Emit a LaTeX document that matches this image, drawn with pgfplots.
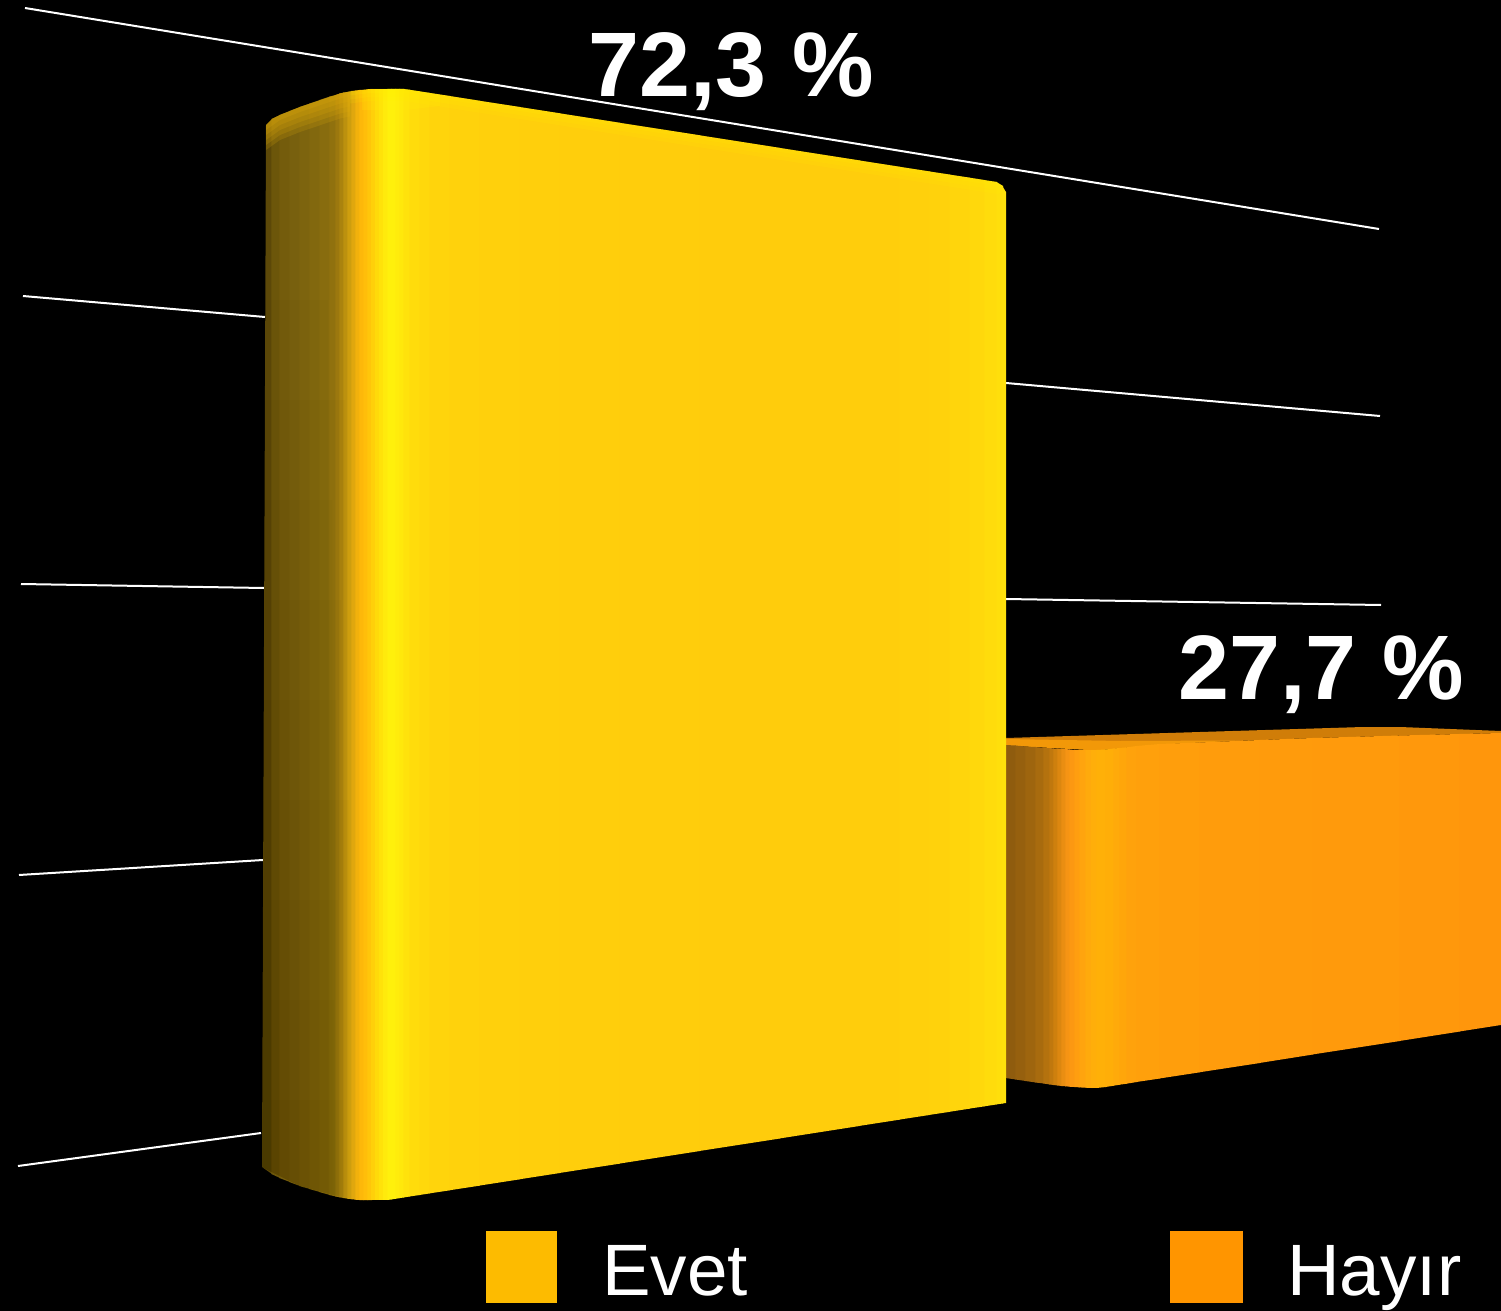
\documentclass[border=0pt]{standalone}
\usepackage{pgfplots}
\pgfplotsset{compat=1.18}
\usepackage{fontspec}
\setmainfont{Liberation Sans}
\newcommand\startbar[3]{\def\px{#1}\def\pt{#2}\def\pb{#3}}
\newcommand\st[6]{%
  \pgfmathsetmacro\pxx{\px-0.7}%
  \edef\temp{\noexpand\addplot[draw=none,fill={rgb,255:red,#4;green,#5;blue,#6}] coordinates {(\pxx,\pt)(#1,#2)(#1,#3)(\pxx,\pb)};}\temp
  \def\px{#1}\def\pt{#2}\def\pb{#3}}
\newcommand\layer[3]{\addplot[draw=none,fill={rgb,255:#1},fill opacity=#2] coordinates {#3};}
\begin{document}
\begin{tikzpicture}
\begin{axis}[scale only axis,width=750.5pt,height=655.5pt,xmin=0,xmax=1501,ymin=0,ymax=1311,y dir=reverse,hide axis,clip=true]
\addplot[draw=none,fill=black] coordinates {(0,0)(1501,0)(1501,1311)(0,1311)};
% grid lines
\addplot[white,line width=1pt] coordinates {(25,8)(1379,229)};
\addplot[white,line width=1pt] coordinates {(23,296)(265,317)};
\addplot[white,line width=1pt] coordinates {(1006,383)(1380,416)};
\addplot[white,line width=1pt] coordinates {(21,584)(264,588)};
\addplot[white,line width=1pt] coordinates {(1006,599)(1381,605)};
\addplot[white,line width=1pt] coordinates {(19,875)(263,860)};
\addplot[white,line width=1pt] coordinates {(18,1166)(261,1133)};
% orange bar
\addplot[draw=none,fill={rgb,255:red,208;green,125;blue,8}] coordinates {(1006,738)(1200,732)(1363,727)(1400,727)(1501,731)(1501,733)(1313,738)(1160,744)(1097,750)(1006,745)};
\addplot[draw=none,fill={rgb,255:red,242;green,152;blue,8}] coordinates {(1006,739)(1120,741)(1240,740.5)(1160,744.5)(1097,750.5)(1006,745.5)};
\startbar{1006}{745}{1078}
\st{1016}{745.5}{1079.5}{143}{92}{14}
\st{1026}{746.5}{1081}{150}{96}{14}
\st{1036}{747}{1082.5}{158}{101}{14}
\st{1044}{748}{1083.5}{168}{107}{14}
\st{1050}{748}{1084.5}{180}{114}{14}
\st{1054}{748.5}{1085}{192}{120}{14}
\st{1058}{748.5}{1085.5}{206}{128}{14}
\st{1062}{749}{1086}{220}{135}{16}
\st{1066}{749}{1086.3}{234}{142}{18}
\st{1070}{749.5}{1086.7}{246}{148}{20}
\st{1075}{750}{1087}{252}{152}{18}
\st{1080}{750}{1087.4}{255}{158}{16}
\st{1086}{750}{1087.7}{255}{164}{14}
\st{1092}{750}{1088}{255}{170}{12}
\st{1097}{750}{1088}{255}{174}{10}
\st{1106}{749.5}{1087}{255}{176}{8}
\st{1114}{748.5}{1085.7}{255}{174}{8}
\st{1120}{748}{1084.7}{255}{170}{10}
\st{1127}{747.3}{1083.7}{255}{166}{10}
\st{1137}{746}{1082}{255}{162}{12}
\st{1160}{744}{1078.5}{255}{160}{12}
\st{1200}{742.5}{1072.3}{255}{158}{12}
\st{1260}{740}{1063}{255}{156}{12}
\st{1313}{738}{1054.5}{255}{155}{12}
\st{1400}{735.5}{1041}{255}{154}{12}
\st{1460}{734}{1031.5}{255}{152}{12}
\st{1501}{733}{1025}{255}{150}{12}
% yellow bar
\addplot[draw=none,fill={rgb,255:red,92;green,72;blue,8}] coordinates {(266,125)(272,119)(272,1174)(262,1167)};
\startbar{272}{119}{1174}
\st{280}{115}{1178}{108}{86}{10}
\st{290}{111}{1182}{116}{92}{12}
\st{300}{107}{1186}{120}{96}{14}
\st{310}{103.5}{1189}{125}{100}{14}
\st{320}{100}{1192}{130}{104}{14}
\st{330}{96.5}{1195}{136}{108}{14}
\st{336}{95}{1196.5}{144}{113}{14}
\st{340}{93.5}{1197.3}{156}{120}{14}
\st{344}{92.5}{1198}{170}{131}{14}
\st{348}{92}{1198.7}{188}{145}{14}
\st{352}{91}{1199.2}{206}{158}{14}
\st{356}{90.5}{1199.7}{224}{167}{14}
\st{360}{90}{1200}{242}{177}{12}
\st{364}{89.8}{1200}{253}{184}{10}
\st{368}{89.3}{1200}{255}{190}{10}
\st{372}{89}{1200}{255}{198}{10}
\st{376}{89}{1200}{255}{208}{10}
\st{380}{89}{1200}{255}{218}{10}
\st{384}{89}{1200}{255}{226}{10}
\st{388}{89}{1200}{255}{234}{12}
\st{392}{89}{1199.4}{255}{240}{12}
\st{396}{89}{1198.8}{255}{240}{12}
\st{400}{89}{1198.1}{255}{236}{12}
\st{404}{89}{1197.5}{255}{232}{12}
\st{410}{89.8}{1196.5}{255}{226}{12}
\st{420}{91.4}{1195}{255}{220}{12}
\st{430}{92.9}{1193.4}{255}{216}{12}
\st{450}{96}{1190.3}{255}{212}{12}
\st{480}{100.8}{1185.6}{255}{210}{12}
\st{520}{107}{1179.3}{255}{208}{12}
\st{560}{113.3}{1173}{255}{207}{12}
\st{620}{122.8}{1163.6}{255}{206}{12}
\st{700}{135.3}{1151}{255}{205}{12}
\st{780}{147.9}{1138.5}{255}{204}{12}
\st{860}{160.5}{1125.9}{255}{205}{12}
\st{900}{166.8}{1119.6}{255}{206}{12}
\st{930}{171.5}{1114.9}{255}{208}{12}
\st{950}{174.6}{1111.8}{255}{210}{12}
\st{970}{177.7}{1108.6}{255}{213}{12}
\st{985}{180.1}{1106.3}{255}{216}{12}
\st{997}{182}{1104.4}{255}{220}{12}
\st{1003}{186}{1103.5}{255}{223}{12}
\st{1006}{192}{1103}{255}{225}{12}
% lit upper rim of the yellow bar
\layer{red,255;green,240;blue,0}{0.12}{(350,91.5)(370,89)(405,89)(997,182)(1003,186)(1003,192)(997,194)(405,101)(370,101)(350,103.5)}
\layer{red,255;green,240;blue,0}{0.12}{(350,91.5)(370,89)(405,89)(997,182)(1003,186)(1003,190)(997,190)(405,97)(370,97)(350,99.5)}
\layer{red,255;green,240;blue,0}{0.12}{(350,91.5)(370,89)(405,89)(997,182)(1003,186)(1003,188)(997,186)(405,93)(370,93)(350,95.5)}
\layer{red,255;green,245;blue,0}{0.15}{(362,90)(405,89)(440,94.5)(440,106)(405,110)(362,110)}
% gold rim of the side face
\layer{red,230;green,175;blue,10}{0.18}{(266,125)(272,119)(280,115)(300,107)(340,93.5)(350,91.5)(350,116.5)(340,118.5)(300,132)(280,140)(266,150)}
\layer{red,230;green,175;blue,10}{0.18}{(266,125)(272,119)(280,115)(300,107)(340,93.5)(350,91.5)(350,111.5)(340,113.5)(300,127)(280,135)(266,145)}
\layer{red,230;green,175;blue,10}{0.18}{(266,125)(272,119)(280,115)(300,107)(340,93.5)(350,91.5)(350,106.5)(340,108.5)(300,122)(280,130)(266,140)}
\layer{red,230;green,175;blue,10}{0.18}{(266,125)(272,119)(280,115)(300,107)(340,93.5)(350,91.5)(350,101.5)(340,103.5)(300,117)(280,125)(266,135)}
\layer{red,230;green,175;blue,10}{0.18}{(266,125)(272,119)(280,115)(300,107)(340,93.5)(350,91.5)(350,96.5)(340,98.5)(300,112)(280,120)(266,130)}
% shade falling towards the foot of the side face
\layer{red,0;green,0;blue,0}{0.014}{(265,300)(328,300)(328,1194)(300,1186)(262,1167)}
\layer{red,0;green,0;blue,0}{0.014}{(265,400)(345,400)(345,1198)(300,1186)(262,1167)}
\layer{red,0;green,0;blue,0}{0.014}{(265,500)(332,500)(332,1195)(300,1186)(262,1167)}
\layer{red,0;green,0;blue,0}{0.014}{(264,600)(341,600)(341,1197)(300,1186)(262,1167)}
\layer{red,0;green,0;blue,0}{0.014}{(264,700)(336,700)(336,1196)(300,1186)(262,1167)}
\layer{red,0;green,0;blue,0}{0.014}{(264,800)(349,800)(349,1198)(300,1186)(262,1167)}
\layer{red,0;green,0;blue,0}{0.014}{(263,900)(338,900)(338,1197)(300,1186)(262,1167)}
\layer{red,0;green,0;blue,0}{0.014}{(263,1000)(334,1000)(334,1196)(300,1186)(262,1167)}
\layer{red,0;green,0;blue,0}{0.014}{(262,1100)(343,1100)(343,1198)(300,1186)(262,1167)}
% legend
\addplot[draw=none,fill={rgb,255:red,253;green,187;blue,0}] coordinates {(486,1231)(557,1231)(557,1303)(486,1303)};
\addplot[draw=none,fill={rgb,255:red,255;green,149;blue,0}] coordinates {(1170,1231)(1243,1231)(1243,1303)(1170,1303)};
\node[white,anchor=base west,inner sep=0pt] at (axis cs:588,97) {\fontsize{45.8pt}{50pt}\selectfont\bfseries 72,3 \%};
\node[white,anchor=base west,inner sep=0pt] at (axis cs:1178,699) {\fontsize{45.8pt}{50pt}\selectfont\bfseries 27,7 \%};
\node[white,anchor=base west,inner sep=0pt] at (axis cs:602,1295) {\fontsize{36.4pt}{40pt}\selectfont Evet};
\node[white,anchor=base west,inner sep=0pt] at (axis cs:1287,1295) {\fontsize{36.4pt}{40pt}\selectfont Hayır};
\end{axis}
\end{tikzpicture}
\end{document}
